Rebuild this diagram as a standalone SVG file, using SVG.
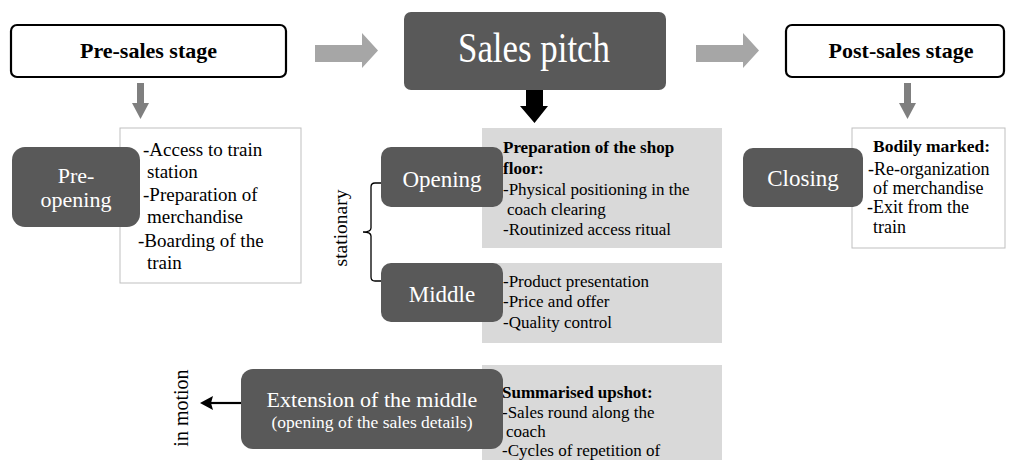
<svg xmlns="http://www.w3.org/2000/svg" width="1009" height="460" viewBox="0 0 1009 460">
<style>
text{font-family:"Liberation Serif","Times New Roman",serif;fill:#000}
.stage{fill:#fff;stroke:#000;stroke-width:2.2}
.stxt{font-size:22px;font-weight:bold;text-anchor:middle}
.node{fill:#595959}
.ntxt{fill:#fff;font-size:23px;text-anchor:middle}
.panel{fill:#d9d9d9}
.wpanel{fill:#fff;stroke:#bfbfbf;stroke-width:1}
.lst{font-size:17px}
.lst19{font-size:19px}
.b{font-weight:bold}
.garrow{fill:#a6a6a6}
.darrow{fill:#7f7f7f}
</style>
<g id="connectors">
<polygon class="garrow" points="315,45 362,45 362,33 378,50.5 362,68 362,62 315,62"/>
<polygon class="garrow" points="696,45 743,45 743,33 759,50.5 743,68 743,62 696,62"/>
<polygon fill="#000" points="526,90 543,90 543,106 548,106 534.5,123 520,106 526,106"/>
<polygon class="darrow" points="137,83 144,83 144,103 149,103 140.5,119 132,103 137,103"/>
<polygon class="darrow" points="904,83 911,83 911,103 916,103 907.5,119 899,103 904,103"/>
<path d="M381,183 H375 Q371,183 371,187 V228 Q371,232 363,232 Q371,232 371,236 V277 Q371,281 375,281 H381" fill="none" stroke="#000" stroke-width="1.3"/>
<line x1="241" y1="403" x2="210" y2="403" stroke="#000" stroke-width="2.2"/>
<polygon fill="#000" points="200,403 213,396 211,403 213,410"/>
</g>
<g id="pre-sales">
<rect class="stage" x="11" y="25" width="275" height="52" rx="6"/>
<text class="stxt" x="148.5" y="58">Pre-sales stage</text>
</g>
<g id="sales-pitch">
<rect class="node" x="404" y="12" width="262" height="78" rx="7"/>
<text x="534" y="62" style="fill:#fff;font-size:42px" text-anchor="middle" textLength="152" lengthAdjust="spacingAndGlyphs">Sales pitch</text>
</g>
<g id="post-sales">
<rect class="stage" x="786" y="25" width="218" height="52" rx="6"/>
<text class="stxt" x="901" y="58">Post-sales stage</text>
</g>
<g id="pre-opening-details">
<rect class="wpanel" x="120" y="128" width="181" height="155"/>
<text class="lst19" x="143" y="156">-Access to train</text>
<text class="lst19" x="147" y="178">station</text>
<text class="lst19" x="143" y="201">-Preparation of</text>
<text class="lst19" x="147" y="223">merchandise</text>
<text class="lst19" x="138" y="247">-Boarding of the</text>
<text class="lst19" x="147" y="269">train</text>
</g>
<g id="pre-opening">
<rect class="node" x="12" y="147" width="128" height="80" rx="13"/>
<text class="ntxt" x="76" y="183" style="font-size:22px">Pre-</text>
<text class="ntxt" x="76" y="207" style="font-size:22px">opening</text>
</g>
<g id="opening-details">
<rect class="panel" x="482" y="128" width="240" height="120"/>
<text class="lst b" x="503" y="153">Preparation of the shop</text>
<text class="lst b" x="503" y="174">floor:</text>
<text class="lst" x="503" y="195">-Physical positioning in the</text>
<text class="lst" x="507" y="215">coach clearing</text>
<text class="lst" x="503" y="235">-Routinized access ritual</text>
</g>
<g id="opening">
<rect class="node" x="381" y="147" width="122" height="60" rx="10"/>
<text class="ntxt" x="442" y="187">Opening</text>
</g>
<g id="middle-details">
<rect class="panel" x="482" y="263" width="240" height="80"/>
<text class="lst" x="503" y="287">-Product presentation</text>
<text class="lst" x="503" y="307">-Price and offer</text>
<text class="lst" x="503" y="328">-Quality control</text>
</g>
<g id="middle">
<rect class="node" x="381" y="263" width="122" height="59" rx="10"/>
<text class="ntxt" x="442" y="302">Middle</text>
</g>
<g id="stationary">
<text x="347" y="228" style="font-size:19.5px" text-anchor="middle" transform="rotate(-90 347 228)">stationary</text>
</g>
<g id="extension-details">
<rect class="panel" x="482" y="365" width="240" height="100"/>
<text class="lst b" x="502" y="398">Summarised upshot:</text>
<text class="lst" x="502" y="418">-Sales round along the</text>
<text class="lst" x="506" y="437">coach</text>
<text class="lst" x="502" y="456">-Cycles of repetition of</text>
</g>
<g id="extension">
<rect class="node" x="241" y="369" width="262" height="80" rx="12"/>
<text class="ntxt" x="372" y="407" style="font-size:22px">Extension of the middle</text>
<text class="ntxt" x="372" y="428" style="font-size:17.5px">(opening of the sales details)</text>
</g>
<g id="in-motion">
<text x="188" y="408" style="font-size:20px" text-anchor="middle" transform="rotate(-90 188 408)">in motion</text>
</g>
<g id="closing-details">
<rect class="wpanel" x="852" y="128" width="153" height="120"/>
<text class="b" x="873" y="152" style="font-size:17.5px">Bodily marked:</text>
<text x="868" y="175" style="font-size:18px">-Re-organization</text>
<text x="873" y="194" style="font-size:18px">of merchandise</text>
<text x="867" y="213" style="font-size:18px">-Exit from the</text>
<text x="873" y="233" style="font-size:18px">train</text>
</g>
<g id="closing">
<rect class="node" x="743" y="148" width="120" height="59" rx="10"/>
<text class="ntxt" x="803" y="186">Closing</text>
</g>
</svg>
